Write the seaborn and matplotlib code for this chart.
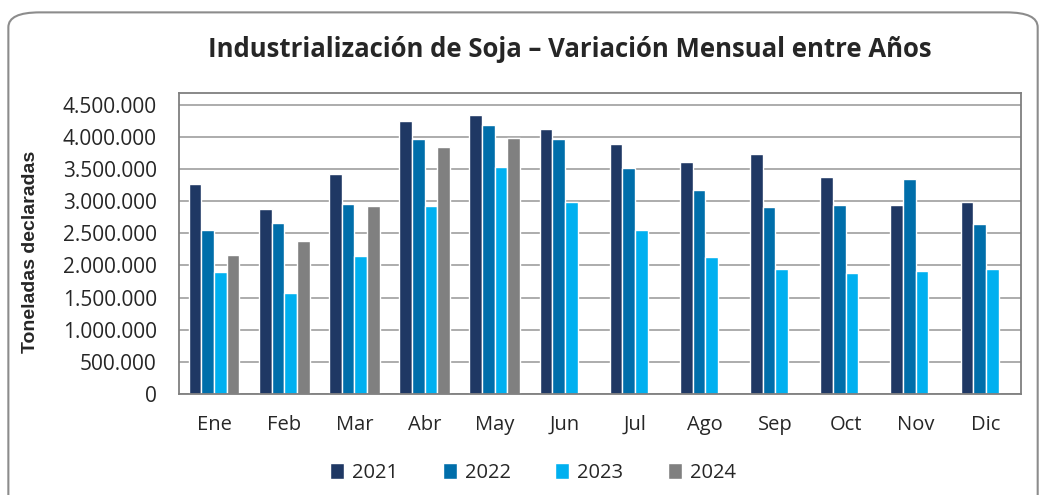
import pandas as pd
import matplotlib.pyplot as plt
import seaborn as sns
from matplotlib.patches import FancyBboxPatch
from matplotlib.ticker import FuncFormatter

# Monthly values (tonnes)
meses = ['Ene', 'Feb', 'Mar', 'Abr', 'May', 'Jun', 'Jul', 'Ago', 'Sep', 'Oct', 'Nov', 'Dic']
t2021 = [3260000, 2880000, 3420000, 4250000, 4345000, 4130000, 3890000, 3610000, 3740000, 3375000, 2945000, 2990000]
t2022 = [2545000, 2665000, 2960000, 3965000, 4185000, 3965000, 3510000, 3180000, 2915000, 2945000, 3345000, 2650000]
t2023 = [1905000, 1575000, 2140000, 2920000, 3535000, 2980000, 2550000, 2125000, 1940000, 1890000, 1920000, 1950000]
t2024 = [2170000, 2385000, 2930000, 3845000, 3990000]
years = ['2021', '2022', '2023', '2024']
colors = ['#1F3864', '#006EAA', '#00B0F0', '#808080']

rows = []
for year, vals in zip(years, [t2021, t2022, t2023, t2024]):
    for mes, v in zip(meses, vals):
        rows.append({'Mes': mes, 'Año': year, 'Toneladas': v})
df = pd.DataFrame(rows)

sns.set_style('white')
plt.rcParams['font.family'] = ['Open Sans', 'DejaVu Sans']

fig = plt.figure(figsize=(10.45, 4.95), dpi=100)
ax = fig.add_axes([0.1713, 0.204, 0.8057, 0.609])

sns.barplot(data=df, x='Mes', y='Toneladas', hue='Año', order=meses, hue_order=years,
            palette=colors, width=0.72, saturation=1, errorbar=None, ax=ax)

ax.set_ylim(0, 4690000)
ax.set_yticks(range(0, 4500001, 500000))
ax.yaxis.set_major_formatter(FuncFormatter(lambda v, p: f"{int(v):,}".replace(',', '.')))
ax.grid(axis='y', color='#A6A6A6', linewidth=1.3)
ax.set_axisbelow(True)
for s in ax.spines.values():
    s.set_color('#7F7F7F')
    s.set_linewidth(1.3)
ax.tick_params(axis='y', length=7, width=1.3, color='#A6A6A6', labelsize=15, pad=9)
ax.tick_params(axis='x', length=0, labelsize=14.5, pad=15)
ax.set_xlabel('')
ax.set_ylabel('Toneladas declaradas', fontsize=14, fontweight='bold',
              family=['Liberation Sans', 'DejaVu Sans'])
ax.yaxis.set_label_coords(-0.166, 0.47)

handles, labels = ax.get_legend_handles_labels()
ax.legend(handles, labels, loc='center', bbox_to_anchor=(0.51, 0.045), bbox_transform=fig.transFigure,
          ncol=4, frameon=False, fontsize=14.5, handlelength=0.7, handleheight=0.9,
          handletextpad=0.4, columnspacing=2.2)

fig.text(0.545, 0.9, 'Industrialización de Soja – Variación Mensual entre Años',
         ha='center', va='center', fontsize=18.5, fontweight='bold')

border = FancyBboxPatch((0.008, -0.03), 0.985, 1.005, boxstyle='round,pad=0,rounding_size=0.03',
                        transform=fig.transFigure, fill=False, edgecolor='#8C8C8C', linewidth=1.5)
fig.patches.append(border)

fig.savefig('out.png', dpi=100)
